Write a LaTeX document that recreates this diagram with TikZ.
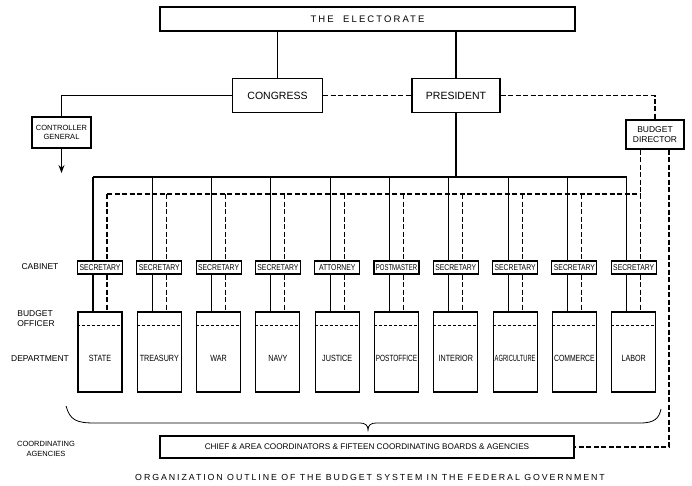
\documentclass[tikz,border=0pt]{standalone}
\usepackage{graphicx}
\usepackage{fontspec}
\setmainfont{Liberation Sans}
\newfontfamily\narrowfont[FakeStretch=0.8]{Liberation Sans}
\newfontfamily\spacedfont[LetterSpace=22]{Liberation Sans}
\usetikzlibrary{arrows.meta}

\tikzset{
  box/.style={draw, line width=1.1pt, inner sep=1pt, align=center},
  link/.style={line width=1.1pt},
  budget/.style={line width=1.1pt, dash pattern=on 5pt off 2.5pt},
  officer/.style={line width=0.6pt, dash pattern=on 3pt off 2pt},
  rowlabel/.style={font=\fontsize{8.5}{10}\selectfont, align=center},
}

\begin{document}
\begin{tikzpicture}[x=1pt, y=-1pt, >=Stealth]
    \useasboundingbox (0,0) rectangle (692,485);

    \node[box, minimum width=415, minimum height=24] (elect) at (367.5,19)
        {\spacedfont\fontsize{9.5}{11}\selectfont THE\quad ELECTORATE};
    \node[box, minimum width=90, minimum height=34, font=\fontsize{10.5}{12}\selectfont] (congress) at (277.5,95.5) {CONGRESS};
    \node[box, minimum width=88, minimum height=34, font=\fontsize{10.5}{12}\selectfont] (pres) at (456,95.5) {PRESIDENT};
    \node[box, minimum width=59, minimum height=31, font=\fontsize{7.5}{9}\selectfont] (ctrl) at (61.5,132.5) {CONTROLLER\\GENERAL};
    \node[box, minimum width=58, minimum height=29, font=\fontsize{8.5}{10}\selectfont] (bdir) at (655,134.5) {BUDGET\\DIRECTOR};
    \coordinate (ctrlend) at (61.5,173);

    \draw[link] (elect.south -| congress.north) -- (congress.north);
    \draw[link] (elect.south -| pres.north) -- (pres.north);
    \draw[link] (congress.west) -- (congress.west -| ctrl.north) -- (ctrl.north);
    \draw[link, ->] (ctrl.south) -- (ctrlend);
    \draw[budget] (congress.east) -- (pres.west);
    \draw[budget] (pres.east) -- (pres.east -| bdir.north) -- (bdir.north);

    % cabinet, budget officers and departments
    \foreach \i/\role/\rs/\dept/\ds in {0/SECRETARY/1/STATE/1, 1/SECRETARY/1/TREASURY/1,
        2/SECRETARY/1/WAR/1, 3/SECRETARY/1/NAVY/1, 4/ATTORNEY/1/JUSTICE/1,
        5/POSTMASTER/0.88/POSTOFFICE/0.9, 6/SECRETARY/1/INTERIOR/1,
        7/SECRETARY/1/AGRICULTURE/0.8, 8/SECRETARY/1/COMMERCE/0.95, 9/SECRETARY/1/LABOR/1} {
        \pgfmathsetmacro\cx{100+59.3*\i}
        \node[box, minimum width=45, minimum height=13, font=\narrowfont\fontsize{8.5}{9}\selectfont]
            (sec\i) at (\cx,267.5) {\scalebox{\rs}[1]{\role}};
        \node[box, minimum width=44, minimum height=80] (dep\i) at (\cx,352) {};
        \node[font=\narrowfont\fontsize{9}{10}\selectfont] (dname\i) at (\cx,358) {\scalebox{\ds}[1]{\dept}};
        \draw[officer] (dep\i.north west) ++(0,14) -- ++(44,0);
        \coordinate (top\i) at (\cx-7,177);
        \coordinate (dtop\i) at (\cx+7,194);
        \draw[link] (top\i) -- (top\i |- sec\i.north);
        \draw[link] (top\i |- sec\i.south) -- (top\i |- dep\i.north);
        \draw[budget] (dtop\i) -- (dtop\i |- sec\i.north);
        \draw[budget] (dtop\i |- sec\i.south) -- (dtop\i |- dep\i.north);
    }

    \draw[link] (top0) -- (top9);
    \draw[link] (pres.south) -- (pres.south |- top0);
    \draw[budget] (dtop0) -- (dtop9);
    \draw[budget] (bdir.south -| dtop9) -- (dtop9);

    \node[box, minimum width=414, minimum height=22, font=\fontsize{8.2}{9}\selectfont] (coord) at (367,447)
        {CHIEF \& AREA COORDINATORS \& FIFTEEN COORDINATING BOARDS \& AGENCIES};
    \coordinate (bturn) at (669,447);
    \draw[budget] (bdir.south -| bturn) -- (bturn) -- (coord.east);

    % brace over the departments
    \draw[line width=0.8pt] (66,406) .. controls (70,420) and (76,423) .. (95,423) -- (360,423)
        .. controls (365,423) and (368,425) .. (368,430)
        .. controls (368,425) and (371,423) .. (376,423) -- (640,423)
        .. controls (655,423) and (659,418) .. (661,409);

    \node[rowlabel] (lcab) at (40,267) {CABINET};
    \node[rowlabel, align=left] (lbud) at (36,318.5) {BUDGET\\OFFICER};
    \node[rowlabel] (ldep) at (40,359) {DEPARTMENT};
    \node[rowlabel, font=\fontsize{7.5}{10}\selectfont] (lcoo) at (46,448.5) {COORDINATING\\AGENCIES};

    \node[font=\spacedfont\fontsize{8.8}{10}\selectfont] (caption) at (370,477)
        {ORGANIZATION OUTLINE OF THE BUDGET SYSTEM IN THE FEDERAL GOVERNMENT};
\end{tikzpicture}
\end{document}
